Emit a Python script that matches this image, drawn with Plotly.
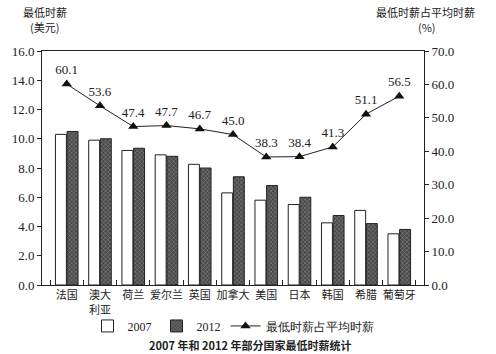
import plotly.graph_objects as go

countries = ["法国", "澳大<br>利亚", "荷兰", "爱尔兰", "英国", "加拿大", "美国", "日本", "韩国", "希腊", "葡萄牙"]
wage_2007 = [10.3, 9.9, 9.2, 8.9, 8.25, 6.3, 5.8, 5.5, 4.25, 5.1, 3.5]
wage_2012 = [10.5, 10.0, 9.35, 8.8, 8.0, 7.4, 6.8, 6.0, 4.75, 4.2, 3.8]
ratio = [60.1, 53.6, 47.4, 47.7, 46.7, 45.0, 38.3, 38.4, 41.3, 51.1, 56.5]
left_ticks = [0, 2, 4, 6, 8, 10, 12, 14, 16]
right_ticks = [0, 10, 20, 30, 40, 50, 60, 70]

serif = "Liberation Serif"
cjk = "Noto Sans CJK SC"

fig = go.Figure()
fig.add_trace(go.Bar(
    x=countries, y=wage_2007, name="2007",
    marker=dict(color="white", line=dict(color="#222", width=1)),
))
fig.add_trace(go.Bar(
    x=countries, y=wage_2012, name="2012",
    marker=dict(color="#555", line=dict(color="#222", width=1),
                pattern=dict(shape="x", bgcolor="#4a4a4a", fgcolor="#bbb", size=3, solidity=0.35)),
))
fig.add_trace(go.Scatter(
    x=countries, y=ratio, name="最低时薪占平均时薪", yaxis="y2",
    mode="lines+markers+text",
    line=dict(color="#222", width=1),
    marker=dict(symbol="triangle-up", size=9, color="#111"),
    text=[f"{v:.1f}" for v in ratio], textposition="top center",
    textfont=dict(family=serif, size=13, color="#222"),
))

fig.update_layout(
    width=496, height=354,
    margin=dict(l=37, r=72, t=51, b=69),
    paper_bgcolor="white", plot_bgcolor="white",
    barmode="group", bargap=0.3, bargroupgap=0.06,
    showlegend=True,
    legend=dict(orientation="h", x=0.5, xanchor="center", y=-0.175, yanchor="middle",
                font=dict(family=serif, size=12, color="#222"),
                itemwidth=30, tracegroupgap=0, bgcolor="rgba(0,0,0,0)"),
    xaxis=dict(showline=True, linecolor="#222", linewidth=1, mirror=True,
               ticks="inside", ticklen=5, tickcolor="#222", tickson="boundaries",
               tickfont=dict(family=cjk, size=11, color="#222"), tickangle=0),
    yaxis=dict(range=[0, 16], tickvals=left_ticks, ticktext=[f"{v:.1f}" for v in left_ticks],
               showline=True, linecolor="#222", linewidth=1, ticks="outside", ticklen=4,
               tickcolor="#222", showgrid=False, zeroline=False,
               tickfont=dict(family=serif, size=13, color="#222")),
    yaxis2=dict(range=[0, 70], tickvals=right_ticks, ticktext=[f"{v:.1f}" for v in right_ticks],
                overlaying="y", side="right", showline=True, linecolor="#222", linewidth=1,
                ticks="outside", ticklen=4, tickcolor="#222", showgrid=False, zeroline=False,
                tickfont=dict(family=serif, size=13, color="#222")),
)

# annotations placed by pixel position, converted to paper coordinates
pw, ph = 496 - 37 - 72, 354 - 51 - 69
ann_specs = [
    ("最低时薪", 40, 12),
    ("(美元)", 40, 27),
    ("最低时薪占平均时薪", 426, 12),
    ("(%)", 427, 27),
    ("<b>2007 年和 2012 年部分国家最低时薪统计</b>", 248, 345),
]
for text, px, py in ann_specs:
    fig.add_annotation(text=text, x=(px - 37) / pw, y=(285 - py) / ph, xref="paper", yref="paper",
                       showarrow=False, xanchor="center", yanchor="middle",
                       font=dict(family=cjk, size=11, color="#222"))

fig.write_html("out.html")
